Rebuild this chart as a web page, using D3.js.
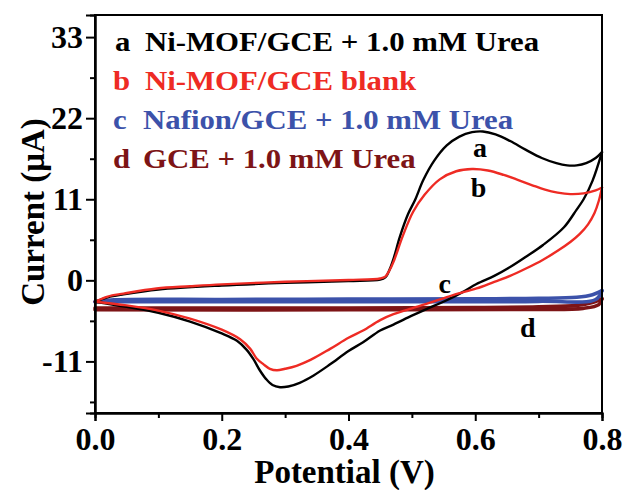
<!DOCTYPE html>
<html>
<head>
<meta charset="utf-8">
<script src="https://cdn.jsdelivr.net/npm/d3@7"></script>
<style>
  html, body { margin: 0; padding: 0; background: #fff; }
  svg { display: block; }
  text { font-family: "Liberation Serif", "Times New Roman", serif; font-weight: bold; }
</style>
</head>
<body>
<svg id="chart" width="626" height="490"></svg>
<script>
// ---------- data (potential V, current µA) ----------
const aForward = [[0.000,-2.9],[0.02,-2.3],[0.045,-1.9],[0.1,-1.25],[0.2,-0.7],[0.3,-0.35],[0.4,-0.1],[0.45,0.1],[0.458,0.4],[0.465,1.5],[0.472,3.2],[0.481,5.9],[0.494,9.0],[0.505,10.9],[0.518,13.6],[0.535,16.2],[0.555,18.3],[0.575,19.5],[0.595,20.1],[0.612,20.2],[0.632,19.8],[0.655,18.9],[0.68,17.7],[0.705,16.6],[0.728,15.9],[0.745,15.6],[0.76,15.6],[0.775,15.9],[0.79,16.6],[0.8,17.4]];
const aReverse = [[0.8,17.4],[0.785,13.5],[0.771,11.0],[0.76,9.6],[0.74,7.2],[0.707,4.8],[0.68,3.2],[0.655,1.8],[0.63,0.6],[0.602,-0.5],[0.58,-1.6],[0.555,-2.7],[0.523,-3.9],[0.5,-4.8],[0.471,-6.0],[0.45,-6.8],[0.423,-8.4],[0.4,-9.6],[0.371,-11.4],[0.345,-12.9],[0.323,-13.9],[0.305,-14.4],[0.292,-14.5],[0.28,-14.2],[0.27,-13.4],[0.26,-12.2],[0.25,-10.7],[0.239,-9.4],[0.224,-8.2],[0.2,-7.2],[0.15,-5.6],[0.1,-4.4],[0.05,-3.6],[0.0,-2.9]];
const bForward = [[0.000,-2.9],[0.02,-2.2],[0.045,-1.8],[0.097,-1.1],[0.15,-0.8],[0.2,-0.55],[0.3,-0.2],[0.4,0.05],[0.45,0.25],[0.458,0.5],[0.465,1.4],[0.471,2.5],[0.486,6.1],[0.502,9.3],[0.52,11.6],[0.544,13.7],[0.57,14.8],[0.595,15.1],[0.62,14.9],[0.645,14.3],[0.665,13.7],[0.69,12.9],[0.71,12.3],[0.73,11.9],[0.75,11.7],[0.771,11.8],[0.79,12.2],[0.8,12.6]];
const bReverse = [[0.8,12.6],[0.795,10.8],[0.788,9.1],[0.778,7.6],[0.765,6.3],[0.75,5.2],[0.73,4.0],[0.707,2.8],[0.68,1.6],[0.655,0.6],[0.63,-0.2],[0.602,-1.1],[0.565,-2.0],[0.523,-3.2],[0.5,-3.8],[0.471,-4.6],[0.45,-5.4],[0.423,-6.8],[0.4,-7.8],[0.371,-9.3],[0.34,-10.8],[0.318,-11.6],[0.3,-12.0],[0.287,-12.2],[0.276,-12.0],[0.266,-11.4],[0.255,-10.6],[0.245,-9.3],[0.229,-8.0],[0.2,-6.7],[0.15,-5.2],[0.1,-4.1],[0.05,-3.4],[0.0,-2.9]];
const cForward = [[0.0,-2.9],[0.03,-2.65],[0.2,-2.6],[0.4,-2.55],[0.6,-2.5],[0.7,-2.45],[0.76,-2.3],[0.785,-1.95],[0.8,-1.4]];
const cReverse = [[0.8,-1.4],[0.79,-2.6],[0.7,-2.85],[0.4,-2.9],[0.1,-2.9],[0.0,-2.9]];
const dForward = [[0.0,-3.75],[0.4,-3.75],[0.6,-3.7],[0.7,-3.6],[0.76,-3.4],[0.785,-3.0],[0.8,-2.5]];
const dReverse = [[0.8,-2.5],[0.795,-3.3],[0.77,-3.8],[0.7,-3.95],[0.4,-4.0],[0.0,-4.0]];

const seriesKeys = ["a", "b", "c", "d"];
const seriesNames = ["Ni-MOF/GCE + 1.0 mM Urea", "Ni-MOF/GCE blank", "Nafion/GCE + 1.0 mM Urea", "GCE + 1.0 mM Urea"];
const seriesColors = ["#000000", "#ee2b24", "#3c52aa", "#7d1416"];
const curveLabelPos = [[0.6075, 16.8], [0.605, 11.3], [0.552, -1.7], [0.683, -7.7]];

const xTicks = [0.0, 0.2, 0.4, 0.6, 0.8];
const xMinorTicks = [0.1, 0.3, 0.5, 0.7];
const yTicks = [-11, 0, 11, 22, 33];
const yMinorTicks = [-16.5, -5.5, 5.5, 16.5, 27.5];

// ---------- layout ----------
const svg = d3.select("#chart");
const mLeft = 95, mRight = 602, mTop = 15, mBottom = 413;
const x = d3.scaleLinear().domain([0, 0.8]).range([mLeft, mRight]);
const y = d3.scaleLinear().domain([-18, 36]).range([mBottom, mTop]);

const line = d3.line().x(d => x(d[0])).y(d => y(d[1])).curve(d3.curveCatmullRom.alpha(0.5));

// curves (c, d underneath; a, b on top)
const drawOrder = [
  {data: [dForward, dReverse], color: seriesColors[3], w: 3.6},
  {data: [cForward, cReverse], color: seriesColors[2], w: 3.6},
  {data: [aForward, aReverse], color: seriesColors[0], w: 2.4},
  {data: [bForward, bReverse], color: seriesColors[1], w: 2.4}
];
drawOrder.forEach(s => {
  s.data.forEach(arr => {
    svg.append("path").attr("d", line(arr)).attr("fill", "none")
      .attr("stroke", s.color).attr("stroke-width", s.w)
      .attr("stroke-linejoin", "round").attr("stroke-linecap", "round");
  });
});

// frame
svg.append("rect").attr("x", mLeft).attr("y", mTop).attr("width", mRight - mLeft).attr("height", mBottom - mTop)
  .attr("fill", "none").attr("stroke", "#000").attr("stroke-width", 2);

// axes
const xAxis = d3.axisBottom(x).tickValues(xTicks).tickFormat(d3.format(".1f")).tickSize(8).tickPadding(6);
const gx = svg.append("g").attr("transform", `translate(0,${mBottom})`).call(xAxis);
const gxm = svg.append("g").attr("transform", `translate(0,${mBottom})`)
  .call(d3.axisBottom(x).tickValues(xMinorTicks).tickSize(5).tickFormat(""));
const yAxis = d3.axisLeft(y).tickValues(yTicks).tickFormat(d => String(d)).tickSize(9).tickPadding(3);
const gy = svg.append("g").attr("transform", `translate(${mLeft},0)`).call(yAxis);
const gym = svg.append("g").attr("transform", `translate(${mLeft},0)`)
  .call(d3.axisLeft(y).tickValues(yMinorTicks).tickSize(5).tickFormat(""));
[gx, gxm, gy, gym].forEach(g => {
  g.select(".domain").attr("stroke", "#000").attr("stroke-width", 2);
  g.selectAll(".tick line").attr("stroke", "#000").attr("stroke-width", 2);
  g.selectAll("text").attr("fill", "#000")
    .style("font-family", '"Liberation Serif", "Times New Roman", serif')
    .style("font-weight", "bold").style("font-size", "32px");
});

// axis titles
svg.append("text").attr("x", (mLeft + mRight) / 2 - 4).attr("y", 483)
  .attr("text-anchor", "middle").style("font-size", "33px").text("Potential (V)");
svg.append("text").attr("transform", `translate(44,${(mTop + mBottom) / 2 - 2}) rotate(-90)`)
  .attr("text-anchor", "middle").style("font-size", "33px").text("Current (\u03bcA)");

// legend
const legendBase = [51, 90, 129, 168];
const letterX = [115, 113, 113, 113];
const nameX = [145, 145, 143, 143];
seriesKeys.forEach((k, i) => {
  svg.append("text").attr("transform", `translate(${letterX[i]},${legendBase[i]}) scale(1.1,1)`)
    .attr("fill", seriesColors[i]).style("font-size", "28px").text(k);
  svg.append("text").attr("transform", `translate(${nameX[i]},${legendBase[i]}) scale(1.1,1)`)
    .attr("fill", seriesColors[i]).style("font-size", "28px").text(seriesNames[i]);
});

// curve labels
seriesKeys.forEach((k, i) => {
  svg.append("text").attr("x", x(curveLabelPos[i][0])).attr("y", y(curveLabelPos[i][1]))
    .attr("text-anchor", "middle").attr("fill", "#000").style("font-size", "28px").text(k);
});
</script>
</body>
</html>
